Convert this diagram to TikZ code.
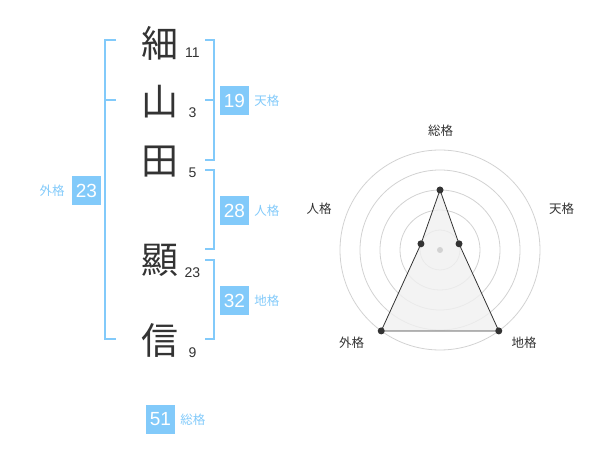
\documentclass[tikz,border=0pt]{standalone}
\usepackage{fontspec}
\setmainfont{Liberation Sans}
\newfontfamily\jpfont{Noto Sans CJK JP}
\usetikzlibrary{positioning}
\definecolor{kakublue}{RGB}{130, 202, 250}
\definecolor{inkgray}{RGB}{51, 51, 51}
\definecolor{ringgray}{RGB}{210, 210, 210}
\definecolor{fillgray}{RGB}{240, 240, 240}
\tikzset{
    kanji/.style={font=\jpfont\fontsize{37}{37}\selectfont, text=inkgray, inner sep=0pt},
    strokes/.style={font=\fontsize{14}{14}\selectfont, text=inkgray, inner sep=0pt},
    kakubox/.style={fill=kakublue, text=white, minimum size=29pt, inner sep=0pt, font=\fontsize{19}{19}\selectfont},
    kakulabel/.style={font=\jpfont\fontsize{12.5}{12.5}\selectfont, text=kakublue, inner sep=0pt},
    bracket/.style={draw=kakublue, line width=2pt},
    axislabel/.style={font=\jpfont\fontsize{12.5}{12.5}\selectfont, text=inkgray, inner sep=0pt},
    radardot/.style={circle, fill=inkgray, inner sep=0pt, minimum size=7pt}
}
\begin{document}
\begin{tikzpicture}[x=1pt, y=-1pt]
    \useasboundingbox (0,0) rectangle (600,470);

    % Name characters and stroke counts
    \foreach \ch/\y/\n/\ny/\i in {細/43/11/53/1, 山/102/3/113/2, 田/162/5/173/3, 顯/260/23/273/4, 信/340/9/353/5} {
        \node[kanji] (char\i) at (160,\y) {\ch};
        \node[strokes] (stroke\i) at (192.5,\ny) {\n};
    }

    % Brackets
    \draw[bracket] (116,40) -- (105,40) -- (105,339) -- (116,339);
    \draw[bracket] (105,100) -- (116,100);
    \draw[bracket] (205,40) -- (214,40) -- (214,160) -- (205,160);
    \draw[bracket] (205,100) -- (214,100);
    \draw[bracket] (205,170) -- (214,170) -- (214,249) -- (205,249);
    \draw[bracket] (205,260) -- (214,260) -- (214,339) -- (205,339);

    % Kaku values
    \node[kakubox] (ten) at (234.5,100.5) {19};
    \node[kakulabel, right=5pt of ten] (tenlabel) {天格};
    \node[kakubox] (jin) at (234.5,210.5) {28};
    \node[kakulabel, right=5pt of jin] (jinlabel) {人格};
    \node[kakubox] (chi) at (234.5,300.5) {32};
    \node[kakulabel, right=5pt of chi] (chilabel) {地格};
    \node[kakubox] (gai) at (86.5,190.5) {23};
    \node[kakulabel, left=7pt of gai] (gailabel) {外格};
    \node[kakubox] (sou) at (160.5,419.5) {51};
    \node[kakulabel, right=5pt of sou] (soulabel) {総格};

    % Radar chart
    \begin{scope}[shift={(440,250)}, y=1pt]
        \foreach \r in {20,40,...,100}
            \draw[ringgray, line width=0.8pt] (0,0) circle (\r pt);
        \foreach \a/\r/\name in {90/60/rsou, 18/20/rten, -54/100/rchi, -126/100/rgai, 162/20/rjin}
            \coordinate (\name) at (\a:\r);
        \fill[fillgray, opacity=0.8] (rsou) -- (rten) -- (rchi) -- (rgai) -- (rjin) -- cycle;
        \draw[inkgray, line width=0.8pt] (rsou) -- (rten) -- (rchi) -- (rgai) -- (rjin) -- cycle;
        \node[circle, fill=ringgray, inner sep=0pt, minimum size=6pt] (rcenter) at (0,0) {};
        \foreach \name in {rsou, rten, rchi, rgai, rjin}
            \node[radardot] (dot-\name) at (\name) {};
    \end{scope}

    % Axis labels
    \node[axislabel] (axsou) at (440.5,130.5) {総格};
    \node[axislabel] (axten) at (561.5,208.5) {天格};
    \node[axislabel] (axjin) at (319,209) {人格};
    \node[axislabel] (axgai) at (351.5,342.5) {外格};
    \node[axislabel] (axchi) at (524,342.5) {地格};
\end{tikzpicture}
\end{document}
